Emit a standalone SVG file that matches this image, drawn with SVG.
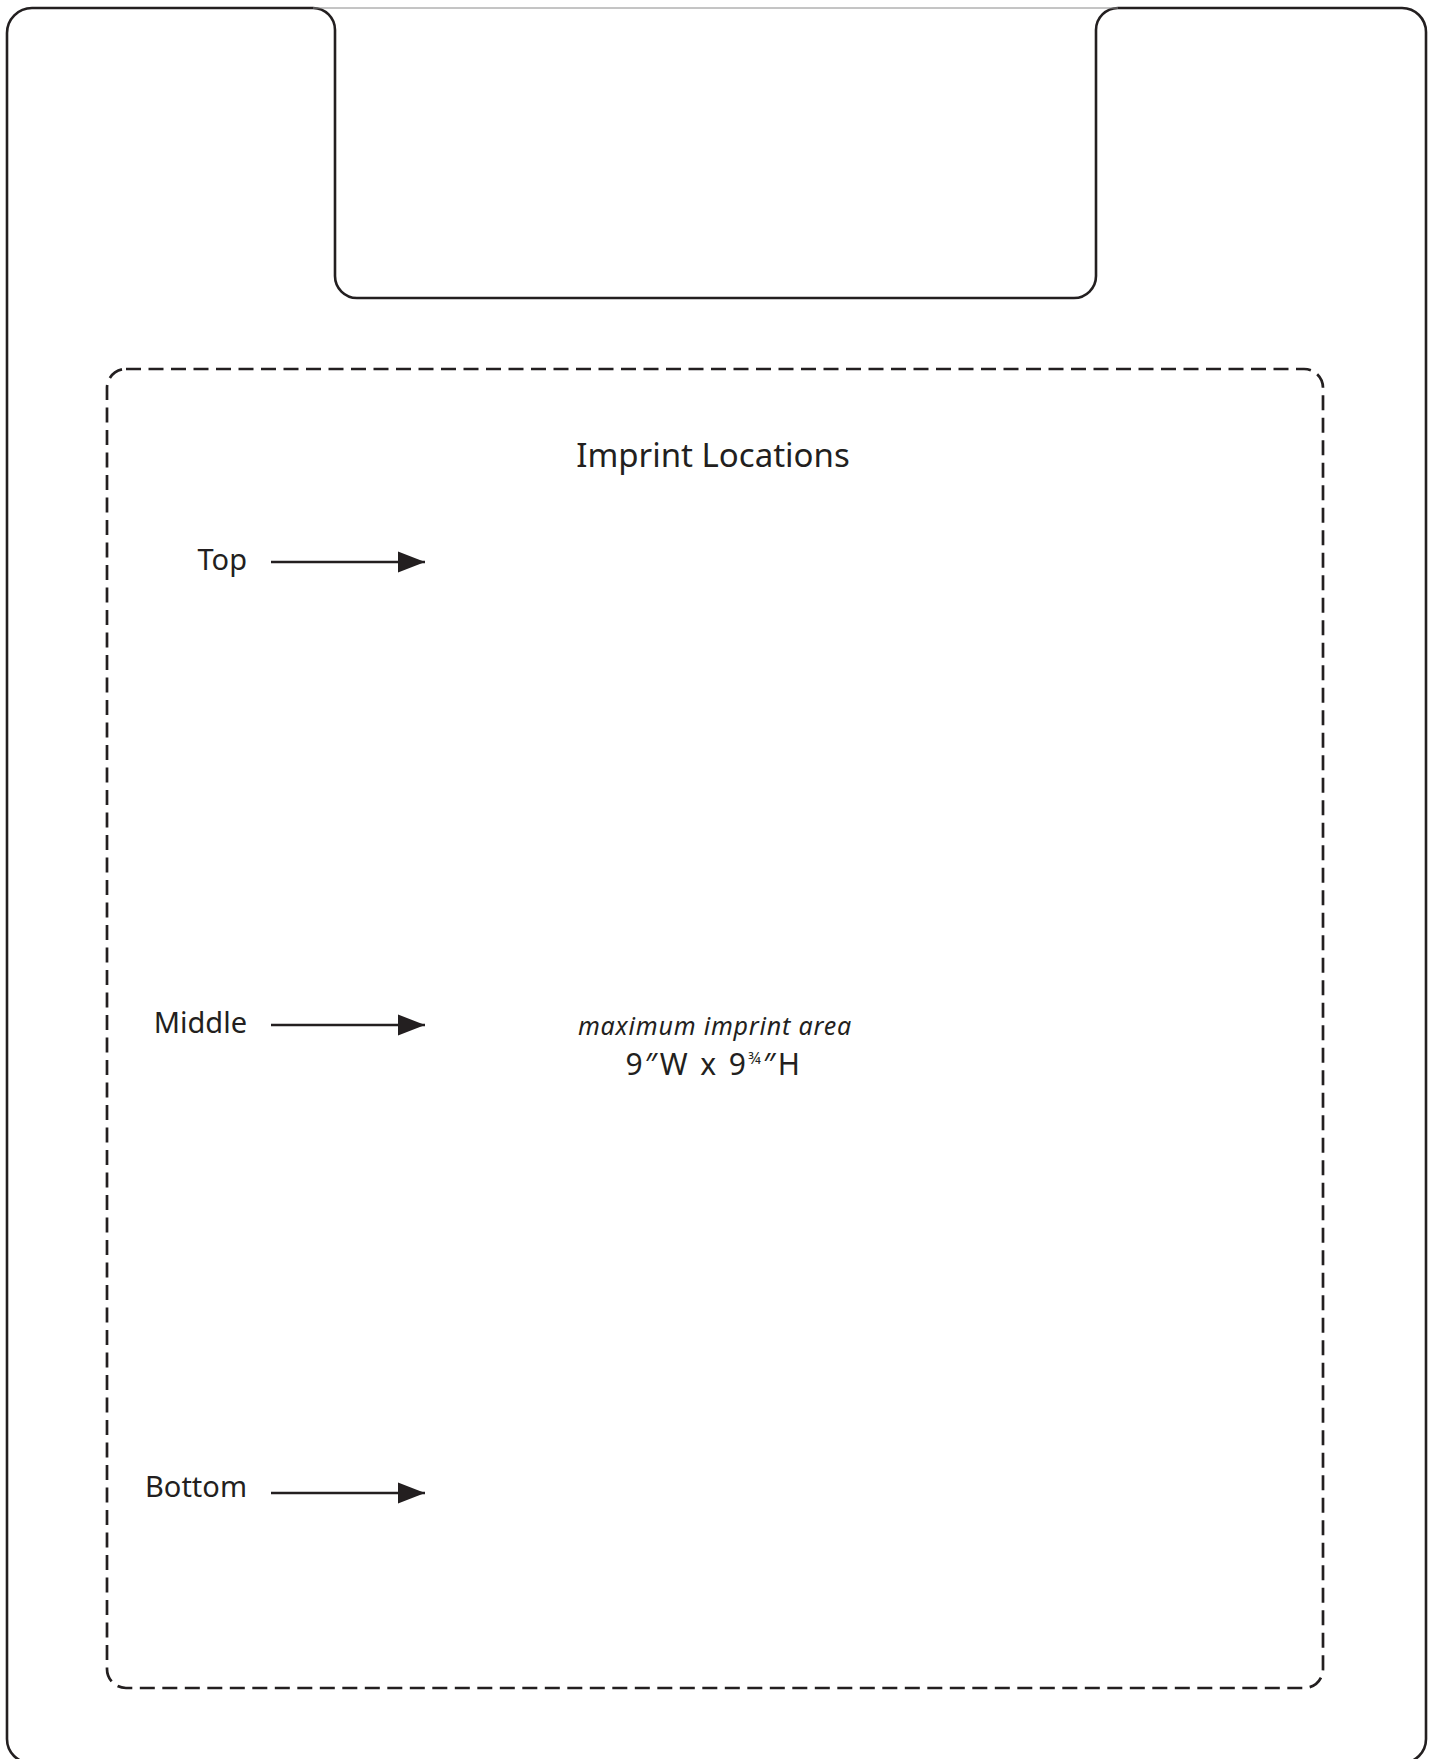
<svg xmlns="http://www.w3.org/2000/svg" width="1439" height="1759" viewBox="0 0 1439 1759">
  <style>
    .frame { fill: none; stroke: #231f20; stroke-width: 2.6; stroke-linejoin: round; }
    .tabtop { fill: none; stroke: #8a8a8a; stroke-width: 1; }
    .dash { fill: none; stroke: #231f20; stroke-width: 2.7; stroke-dasharray: 15 7.5; }
    .lbl { font-family: "Noto Sans", "Liberation Sans", sans-serif; fill: #231f20; }
    .arrow { stroke: #231f20; stroke-width: 2.6; fill: none; marker-end: url(#head); }
  </style>
  <defs>
    <marker id="head" markerUnits="userSpaceOnUse" markerWidth="28" markerHeight="22" refX="27" refY="11" orient="auto">
      <path d="M0,0.5 L27,11 L0,21.5 Z" fill="#231f20"/>
    </marker>
  </defs>
  <rect width="1439" height="1759" fill="#ffffff"/>

  <g id="board">
    <path class="frame" d="M 7,1739 L 7,33 A 25 25 0 0 1 32,8 L 313,8 A 22 22 0 0 1 335,30 L 335,276 A 22 22 0 0 0 357,298 L 1074,298 A 22 22 0 0 0 1096,276 L 1096,30 A 22 22 0 0 1 1118,8 L 1402,8 A 24 24 0 0 1 1426,32 L 1426,1739 A 24 24 0 0 1 1402,1763 L 31,1763 A 24 24 0 0 1 7,1739 Z"/>
    <line class="tabtop" x1="313" y1="8" x2="1118" y2="8"/>
  </g>

  <g id="imprint-area">
    <rect class="dash" x="107" y="369" width="1216" height="1319" rx="19" ry="19"/>
    <text class="lbl" x="713" y="467" font-size="33" text-anchor="middle">Imprint Locations</text>
    <text class="lbl" x="715" y="1035" font-size="25" font-style="italic" letter-spacing="0.8" text-anchor="middle">maximum imprint area</text>
    <text class="lbl" x="714" y="1075" font-size="30" letter-spacing="2.4" text-anchor="middle">9″W x 9<tspan font-size="16" dy="-11">¾</tspan><tspan dy="11">″H</tspan></text>
  </g>

  <g id="label-top">
    <text class="lbl" x="247" y="570" font-size="29" text-anchor="end">Top</text>
  </g>
  <g id="label-middle">
    <text class="lbl" x="247" y="1033" font-size="29" text-anchor="end">Middle</text>
  </g>
  <g id="label-bottom">
    <text class="lbl" x="247" y="1497" font-size="29" text-anchor="end">Bottom</text>
  </g>

  <g id="connectors">
    <line class="arrow" x1="271" y1="562" x2="425" y2="562"/>
    <line class="arrow" x1="271" y1="1025" x2="425" y2="1025"/>
    <line class="arrow" x1="271" y1="1493" x2="425" y2="1493"/>
  </g>
</svg>
